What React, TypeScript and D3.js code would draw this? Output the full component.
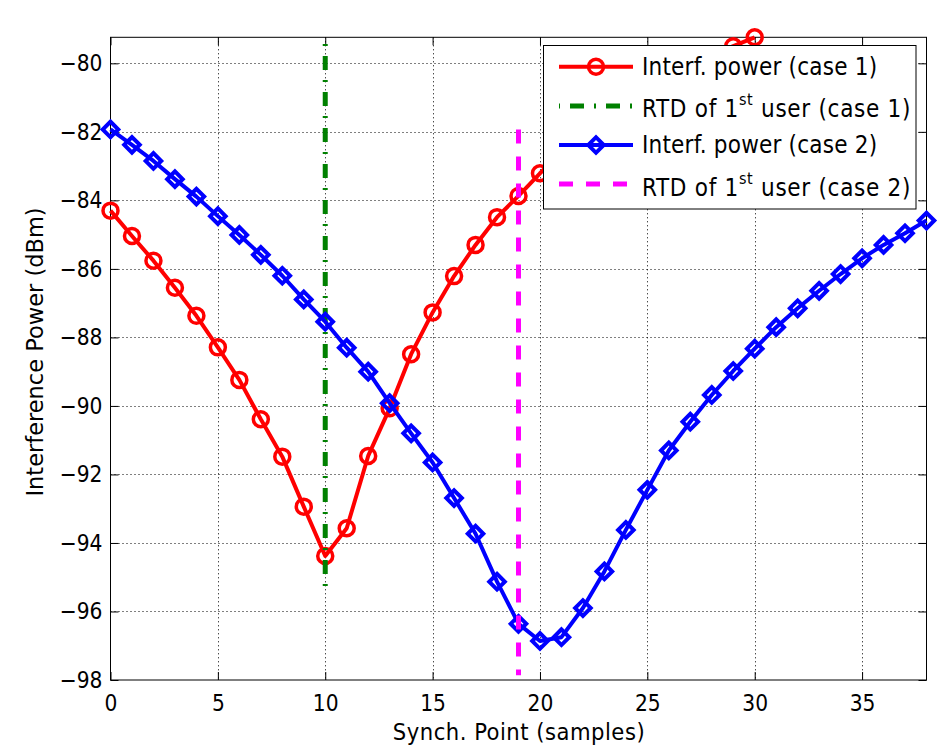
import { useEffect, useRef } from "react";
import * as d3 from "d3";

// interference power per synchronisation point (dBm)
const case1Power = [
  -84.3, -85.04, -85.76, -86.55, -87.37, -88.29, -89.24, -90.39, -91.48, -92.94,
  -94.38, -93.57, -91.46, -90.07, -88.49, -87.27, -86.21, -85.3, -84.49, -83.87,
  -83.21, -82.6, -82.05, -81.55, -81.1, -80.7, -80.35, -80.05, -79.75, -79.5,
  -79.24,
];
const case2Power = [
  -81.93, -82.38, -82.85, -83.38, -83.89, -84.46, -85.01, -85.59, -86.2, -86.89,
  -87.54, -88.3, -89.0, -89.92, -90.8, -91.65, -92.69, -93.73, -95.13, -96.36,
  -96.86, -96.75, -95.9, -94.83, -93.62, -92.45, -91.3, -90.46, -89.68, -88.98,
  -88.33, -87.7, -87.15, -86.64, -86.15, -85.69, -85.3, -84.96, -84.59,
];

// round trip delay of the first user, as vertical markers
const rtdCase1Sample = 10;
const rtdCase1Span = [-95.38, -79.24];
const rtdCase2Sample = 19;
const rtdCase2Span = [-97.86, -81.93];

const xDomain = [0, 38];
const yDomain = [-98, -79.24];
const xTickValues = [0, 5, 10, 15, 20, 25, 30, 35];
const yTickValues = [-98, -96, -94, -92, -90, -88, -86, -84, -82, -80];

const legendLabels = [
  "Interf. power (case 1)",
  "RTD of 1st user (case 1)",
  "Interf. power (case 2)",
  "RTD of 1st user (case 2)",
];

const W = 948;
const H = 754;
const FONT = "'DejaVu Sans Condensed', 'DejaVu Sans', sans-serif";

const App = () => {
  const svgRef = useRef(null);

  useEffect(() => {
    const svg = d3.select(svgRef.current);
    svg.selectAll("*").remove();

    const left = 110.5;
    const right = 926.5;
    const top = 37.3;
    const bottom = 680;

    const x = d3.scaleLinear().domain(xDomain).range([left, right]);
    const y = d3.scaleLinear().domain(yDomain).range([bottom, top]);

    svg.append("rect").attr("width", W).attr("height", H).attr("fill", "#fff");

    // dotted grid
    const grid = svg.append("g").attr("stroke", "#000").attr("stroke-width", 1).attr("stroke-dasharray", "1,3");
    grid
      .selectAll(".gx")
      .data(xTickValues.filter((v) => v > xDomain[0]))
      .enter()
      .append("line")
      .attr("x1", (d) => Math.round(x(d)) + 0.5)
      .attr("x2", (d) => Math.round(x(d)) + 0.5)
      .attr("y1", top)
      .attr("y2", bottom);
    grid
      .selectAll(".gy")
      .data(yTickValues.filter((v) => v > yDomain[0]))
      .enter()
      .append("line")
      .attr("y1", (d) => Math.round(y(d)) + 0.5)
      .attr("y2", (d) => Math.round(y(d)) + 0.5)
      .attr("x1", left)
      .attr("x2", right);

    // axes with inward ticks on all four sides
    const styleAxis = (g) => {
      g.select(".domain").remove();
      g.selectAll("line").attr("stroke", "#000").attr("stroke-width", 1);
      g.selectAll("text").attr("fill", "#000").style("font-family", FONT).style("font-size", "22.5px");
    };
    svg
      .append("g")
      .attr("transform", `translate(0,${bottom})`)
      .call(d3.axisBottom(x).tickValues(xTickValues).tickSize(-8).tickPadding(15))
      .call(styleAxis);
    svg
      .append("g")
      .attr("transform", `translate(0,${top})`)
      .call(d3.axisTop(x).tickValues(xTickValues).tickSize(-8).tickFormat(() => ""))
      .call(styleAxis);
    svg
      .append("g")
      .attr("transform", `translate(${left},0)`)
      .call(d3.axisLeft(y).tickValues(yTickValues).tickSize(-8).tickPadding(8))
      .call(styleAxis);
    svg
      .append("g")
      .attr("transform", `translate(${right},0)`)
      .call(d3.axisRight(y).tickValues(yTickValues).tickSize(-8).tickFormat(() => ""))
      .call(styleAxis);

    svg
      .append("rect")
      .attr("x", left)
      .attr("y", top)
      .attr("width", right - left)
      .attr("height", bottom - top)
      .attr("fill", "none")
      .attr("stroke", "#000")
      .attr("stroke-width", 1);

    const line = d3
      .line()
      .x((d, i) => x(i))
      .y((d) => y(d));

    const diamond = d3.symbol().type(d3.symbolSquare).size(121);

    // case 1 curve with circle markers
    svg
      .append("path")
      .datum(case1Power)
      .attr("fill", "none")
      .attr("stroke", "#ff0000")
      .attr("stroke-width", 4)
      .attr("stroke-linejoin", "round")
      .attr("d", line);
    svg
      .append("g")
      .selectAll("circle")
      .data(case1Power)
      .enter()
      .append("circle")
      .attr("cx", (d, i) => x(i))
      .attr("cy", (d) => y(d))
      .attr("r", 7.5)
      .attr("fill", "none")
      .attr("stroke", "#ff0000")
      .attr("stroke-width", 3.5);

    // RTD marker, case 1
    svg
      .append("line")
      .attr("x1", x(rtdCase1Sample))
      .attr("x2", x(rtdCase1Sample))
      .attr("y1", y(rtdCase1Span[1]))
      .attr("y2", y(rtdCase1Span[0]))
      .attr("stroke", "#008000")
      .attr("stroke-width", 5)
      .attr("stroke-dasharray", "14,10,2,10")
      .attr("stroke-dashoffset", 17.3);

    // case 2 curve with diamond markers
    svg
      .append("path")
      .datum(case2Power)
      .attr("fill", "none")
      .attr("stroke", "#0000ff")
      .attr("stroke-width", 4)
      .attr("stroke-linejoin", "round")
      .attr("d", line);
    svg
      .append("g")
      .selectAll("path")
      .data(case2Power)
      .enter()
      .append("path")
      .attr("d", diamond)
      .attr("transform", (d, i) => `translate(${x(i)},${y(d)}) rotate(45)`)
      .attr("fill", "none")
      .attr("stroke", "#0000ff")
      .attr("stroke-width", 4);

    // RTD marker, case 2
    svg
      .append("line")
      .attr("x1", x(rtdCase2Sample))
      .attr("x2", x(rtdCase2Sample))
      .attr("y1", y(rtdCase2Span[1]))
      .attr("y2", y(rtdCase2Span[0]))
      .attr("stroke", "#ff00ff")
      .attr("stroke-width", 5)
      .attr("stroke-dasharray", "14,13");

    // axis titles
    svg
      .append("text")
      .attr("transform", "translate(43,352) rotate(-90)")
      .attr("text-anchor", "middle")
      .style("font-family", "'DejaVu Sans', sans-serif")
      .style("font-size", "22.5px")
      .text("Interference Power (dBm)");
    svg
      .append("text")
      .attr("x", 519)
      .attr("y", 740)
      .attr("text-anchor", "middle")
      .style("font-family", FONT)
      .style("font-size", "23.5px")
      .style("letter-spacing", "0.5px")
      .text("Synch. Point (samples)");

    // legend
    const lg = svg.append("g");
    lg.append("rect")
      .attr("x", 543.5)
      .attr("y", 45.5)
      .attr("width", 372.5)
      .attr("height", 163.5)
      .attr("fill", "#fff")
      .attr("stroke", "#000")
      .attr("stroke-width", 1);

    const rowY = [66.7, 106, 145, 184];
    const baseY = [75, 117.3, 153.3, 195.7];
    const sx1 = 559;
    const sx2 = 633;
    const sm = 596;

    lg.append("line").attr("x1", sx1).attr("x2", sx2).attr("y1", rowY[0]).attr("y2", rowY[0])
      .attr("stroke", "#ff0000").attr("stroke-width", 4);
    lg.append("circle").attr("cx", sm).attr("cy", rowY[0]).attr("r", 7.5)
      .attr("fill", "none").attr("stroke", "#ff0000").attr("stroke-width", 3.5);

    lg.append("line").attr("x1", sx1).attr("x2", sx2).attr("y1", rowY[1]).attr("y2", rowY[1])
      .attr("stroke", "#008000").attr("stroke-width", 5)
      .attr("stroke-dasharray", "14,10,2,10").attr("stroke-dashoffset", 25);

    lg.append("line").attr("x1", sx1).attr("x2", sx2).attr("y1", rowY[2]).attr("y2", rowY[2])
      .attr("stroke", "#0000ff").attr("stroke-width", 4);
    lg.append("path").attr("d", diamond).attr("transform", `translate(${sm},${rowY[2]}) rotate(45)`)
      .attr("fill", "none").attr("stroke", "#0000ff").attr("stroke-width", 4);

    lg.append("line").attr("x1", sx1).attr("x2", sx2).attr("y1", rowY[3]).attr("y2", rowY[3])
      .attr("stroke", "#ff00ff").attr("stroke-width", 5).attr("stroke-dasharray", "14,13");

    legendLabels.forEach((label, i) => {
      const m = label.match(/^(.*1)(st)( .*)$/);
      const t = lg
        .append("text")
        .attr("x", 642)
        .attr("y", baseY[i])
        .style("font-family", FONT)
        .style("font-size", "24px")
        .style("letter-spacing", m ? "0.7px" : "0.2px");
      if (m) {
        t.append("tspan").text(m[1]);
        t.append("tspan").attr("dy", -12).style("font-size", "16px").text(m[2]);
        t.append("tspan").attr("dy", 12).text(m[3]);
      } else {
        t.text(label);
      }
    });
  }, []);

  return (
    <svg
      ref={svgRef}
      width={W}
      height={H}
      style={{ position: "absolute", left: 0, top: 0, display: "block" }}
    />
  );
};

export default App;
